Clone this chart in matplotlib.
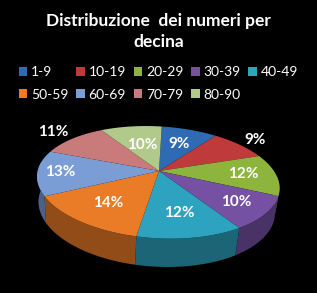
import numpy as np
import matplotlib
matplotlib.use("Agg")
import matplotlib.pyplot as plt
from matplotlib.patches import Polygon, Patch

# Data: share of numbers per decade (percent)
decine = ['1-9', '10-19', '20-29', '30-39', '40-49', '50-59', '60-69', '70-79', '80-90']
percentuali = [9, 9, 12, 10, 12, 14, 13, 11, 10]
colori = ['#2F6BB3', '#BF3A3A', '#8DB53E', '#7650A3', '#2DA3BF',
          '#EA7B27', '#7B9DD6', '#C97B7B', '#B2C98C']
titolo = 'Distribuzione  dei numeri per\ndecina'

plt.rcParams['font.family'] = ['Lato', 'DejaVu Sans']

W, H = 317, 293
fig = plt.figure(figsize=(W / 100, H / 100), dpi=100, facecolor='black')
ax = fig.add_axes([0, 0, 1, 1])
ax.set_xlim(0, W)
ax.set_ylim(H, 0)
ax.axis('off')
ax.set_facecolor('black')

# simple perspective camera for the 3d pie
elev = np.radians(26.8)
D, f, h = 4.39, 522.0, 0.235
cx, cy = 159, 171
roll = np.radians(3.5)


def proj(x, y, z):
    depth = D + y * np.cos(elev) - z * np.sin(elev)
    sx = f * x / depth
    sy = f * (y * np.sin(elev) + z * np.cos(elev)) / depth
    rx = sx * np.cos(roll) + sy * np.sin(roll)
    ry = -sx * np.sin(roll) + sy * np.cos(roll)
    return cx + rx, cy - ry


def darker(c, k):
    r, g, b = matplotlib.colors.to_rgb(c)
    return (r * k, g * k, b * k)


vals = np.array(percentuali, dtype=float)
bounds = 90 - 360 * np.concatenate([[0], np.cumsum(vals)]) / vals.sum()

# side walls (front half only)
for i in range(len(vals)):
    a0, a1 = bounds[i + 1], bounds[i]
    t = np.radians(np.linspace(a0, a1, 80))
    t = t[np.sin(t) <= 0.05]
    if len(t) < 2:
        continue
    xt, yt = proj(np.cos(t), np.sin(t), 0)
    xb, yb = proj(np.cos(t), np.sin(t), -h)
    pts = np.column_stack([np.concatenate([xt, xb[::-1]]),
                           np.concatenate([yt, yb[::-1]])])
    ax.add_patch(Polygon(pts, closed=True, facecolor=darker(colori[i], 0.62),
                         edgecolor='none'))

# top faces
for i in range(len(vals)):
    a0, a1 = bounds[i + 1], bounds[i]
    t = np.radians(np.linspace(a0, a1, 80))
    xs, ys = proj(np.concatenate([[0], np.cos(t)]),
                  np.concatenate([[0], np.sin(t)]), 0)
    ax.add_patch(Polygon(np.column_stack([xs, ys]), closed=True,
                         facecolor=colori[i], edgecolor='none'))

# percentage labels
rad = [0.62, 1.22, 0.72, 0.75, 0.68, 0.68, 0.82, 1.25, 0.55]
for i in range(len(vals)):
    m = np.radians((bounds[i] + bounds[i + 1]) / 2)
    lx, ly = proj(rad[i] * np.cos(m), rad[i] * np.sin(m), 0)
    ax.text(lx, ly, f'{percentuali[i]:.0f}%', color='white', fontsize=11,
            fontweight='bold', ha='center', va='center')

fig.text(0.5, 0.893, titolo, color='white', fontsize=12.5, fontweight='bold',
         ha='center', va='center', linespacing=1.35)

# legend, row-major order
order = [0, 5, 1, 6, 2, 7, 3, 8, 4]
handles = [Patch(facecolor=colori[j], edgecolor='none', label=decine[j]) for j in order]
leg = fig.legend(handles=handles, ncol=5, loc='center', bbox_to_anchor=(0.5, 0.715),
                 frameon=False, fontsize=10, labelcolor='white',
                 handlelength=0.6, handleheight=0.6, handletextpad=0.3,
                 columnspacing=0.55, labelspacing=0.75, borderpad=0)

fig.savefig('out.png', dpi=100, facecolor='black')
